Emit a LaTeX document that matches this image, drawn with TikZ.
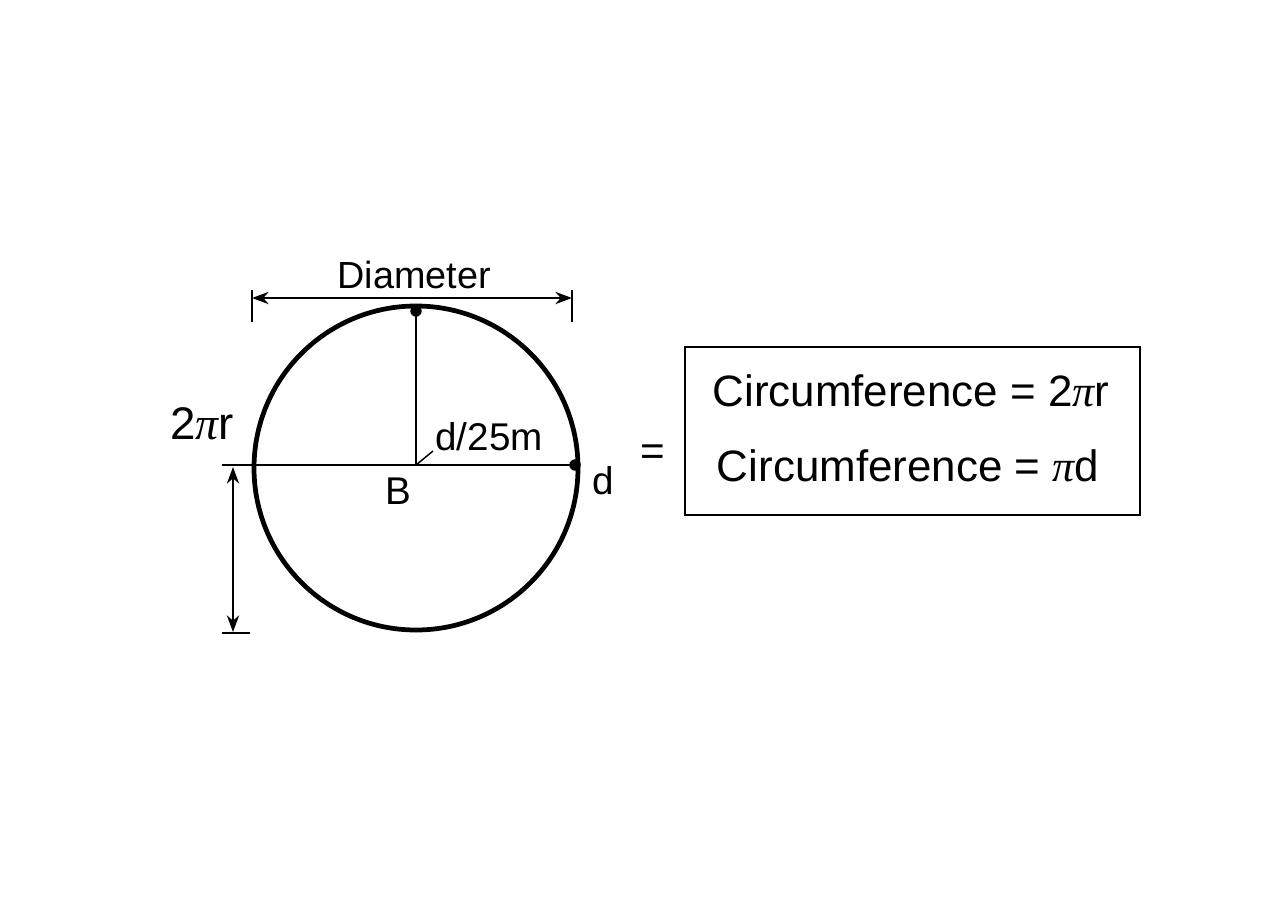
\documentclass[tikz,border=0pt]{standalone}
\usepackage{fontspec}
\setmainfont{Liberation Sans}
\newfontfamily\pifont{Liberation Serif}
\usetikzlibrary{arrows.meta}
\newcommand{\mypi}{{\pifont\itshape π}}
\begin{document}
\begin{tikzpicture}[x=0.02cm,y=-0.02cm,
  thin line/.style={line width=0.85pt},
  dimarrow/.style={thin line,{Stealth[length=9.5pt,width=7pt]}-{Stealth[length=9.5pt,width=7pt]}},
  dotmark/.style={circle,fill=black,inner sep=0pt,minimum size=6.5pt},
  lbl/.style={inner sep=0pt,font=\fontsize{21.5}{24}\selectfont},
  eq/.style={inner sep=0pt,font=\fontsize{25}{28}\selectfont}]
\useasboundingbox[fill=white] (0,0) rectangle (1280,896);
% circle
\coordinate (C) at (416,468);
\draw[line width=2.7pt] (C) circle (162);
% diameter dimension
\coordinate (dl) at (252,298);
\coordinate (dr) at (572,298);
\draw[thin line] (252,290) -- (252,322);
\draw[thin line] (572,290) -- (572,322);
\draw[dimarrow] (dl) -- (dr);
\node[lbl] (diam) at (414,275) {Diameter};
% radius lines
\node[dotmark] (top) at (416,311) {};
\node[dotmark] (rt) at (575,465) {};
\coordinate (B0) at (416,465);
\coordinate (hl) at (222,465);
\draw[thin line] (top.center) -- (B0);
\draw[thin line] (hl) -- (rt.center);
\coordinate (lead) at (433,451);
\draw[thin line] (B0) -- (lead);
\node[lbl,font=\fontsize{22}{24}\selectfont] (r) at (489,437) {d/25m};
\node[lbl,font=\fontsize{22}{24}\selectfont] (B) at (398,491) {B};
\node[lbl,font=\fontsize{22}{24}\selectfont] (d) at (603,481) {d};
% left dimension
\node[lbl,font=\fontsize{26}{28}\selectfont] (tpr) at (202,424) {2\mypi r};
\coordinate (vt) at (233,467);
\coordinate (vb) at (233,632);
\draw[thin line] (222,633) -- (250,633);
\draw[dimarrow] (vt) -- (vb);
% equation box
\node[inner sep=0pt,font=\fontsize{24}{26}\selectfont] (eqs) at (653,455) {=};
\node[draw,thin line,inner sep=0pt,minimum width=9.1cm,minimum height=3.36cm] (box) at (912.5,431) {};
\node[eq] (c1) at (911,391) {Circumference = 2\mypi r};
\node[eq] (c2) at (908,466) {Circumference = \mypi d};
\end{tikzpicture}
\end{document}
